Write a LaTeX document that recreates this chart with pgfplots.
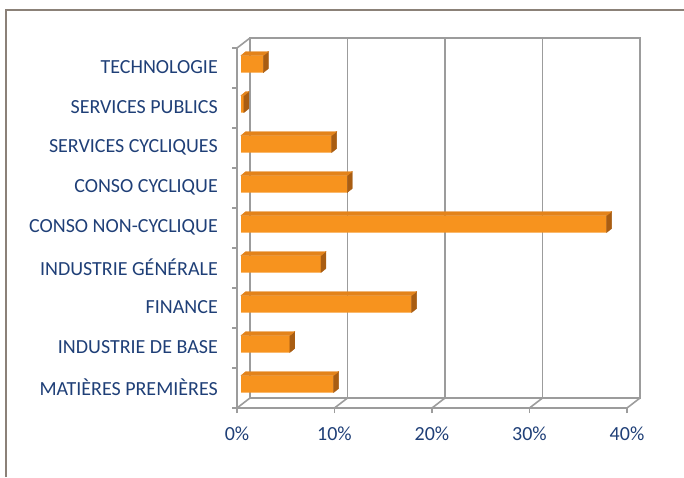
\documentclass[border=0pt]{standalone}
\usepackage{fontspec}
\setmainfont{Carlito}
\usepackage{pgfplots}
\usepackage{pgfplotstable}
\pgfplotsset{compat=1.18}
\definecolor{frontc}{HTML}{F7931E}
\definecolor{topc}{HTML}{E3831A}
\definecolor{sidec}{HTML}{A95D12}
\definecolor{gridc}{HTML}{9C9C9C}
\definecolor{framec}{HTML}{8B8178}
\definecolor{textc}{HTML}{1F3F77}
\pgfdeclareplotmark{empty3d}{}
\pgfplotstableread{
v c
2.3 9
0.3 8
9.3 7
10.9 6
37.5 5
8.2 4
17.5 3
5.0 2
9.5 1
}\sectordata
\begin{document}
\begin{tikzpicture}[x=1pt,y=1pt]
\useasboundingbox (0,0) rectangle (684,477);
\draw[framec, line width=1.5pt] (6,0) -- (6,467) -- (684,467);
% back wall
\begin{axis}[at={(250pt,79pt)}, anchor=south west, scale only axis,
  width=390pt, height=360pt, xmin=0, xmax=40, ymin=0.5, ymax=9.5,
  axis lines=box, axis line style={gridc, line width=1.6pt},
  xtick={10,20,30}, xticklabels={,,}, ytick=\empty, major tick length=0pt,
  xmajorgrids, grid style={gridc, line width=1.6pt}]
\end{axis}
% bars
\begin{axis}[at={(241pt,73pt)}, anchor=south west, scale only axis,
  width=390pt, height=360pt, xmin=0, xmax=40, ymin=0.5, ymax=9.5,
  hide axis, clip=false]
\addplot[xbar, bar width=17pt, fill=frontc, draw=none] table[x=v, y=c] {\sectordata};
\addplot[only marks, mark=empty3d, scatter,
  visualization depends on={rawx \as \vx},
  scatter/@pre marker code/.code={%
    \pgfmathsetmacro\L{\vx*9.75}%
    \fill[sidec] (0pt,-8.5pt) -- (0pt,8.5pt) -- (5pt,12.5pt) -- (5pt,-4.5pt) -- cycle;
    \fill[topc] ({-\L pt},8.5pt) -- (0pt,8.5pt) -- (5pt,12.5pt) -- ({5pt-\L pt},12.5pt) -- cycle;
  },
  scatter/@post marker code/.code={}] table[x=v, y=c] {\sectordata};
\end{axis}
% front frame
\begin{axis}[at={(237pt,69pt)}, anchor=south west, scale only axis,
  width=390pt, height=360pt, xmin=0, xmax=40, ymin=0.5, ymax=9.5,
  clip=false,
  axis x line=bottom, axis y line=left,
  axis line style={gridc, line width=1.6pt, -},
  tick style={gridc, line width=1.6pt},
  tick align=outside, major tick length=5pt,
  xtick={0,10,20,30,40}, xticklabels={0\%,10\%,20\%,30\%,40\%},
  ytick={0.5,1.5,...,9.5}, y tick label as interval,
  yticklabels={MATIÈRES PREMIÈRES, INDUSTRIE DE BASE, FINANCE, INDUSTRIE GÉNÉRALE, CONSO NON-CYCLIQUE, CONSO CYCLIQUE, SERVICES CYCLIQUES, SERVICES PUBLICS, TECHNOLOGIE},
  every tick label/.append style={font=\fontsize{20}{23}\selectfont, text=textc},
  yticklabel style={inner sep=0pt, xshift=-14pt, yshift=1pt},
  xticklabel style={inner sep=0pt, yshift=-14pt}]
\draw[gridc, line width=1.6pt] (axis cs:0,9.5) -- ++(13pt,10pt);
\pgfplotsinvokeforeach{0,10,20,30,40}{
  \draw[gridc, line width=1.6pt] (axis cs:#1,0.5) -- ++(13pt,10pt);
}
\end{axis}
\end{tikzpicture}
\end{document}
